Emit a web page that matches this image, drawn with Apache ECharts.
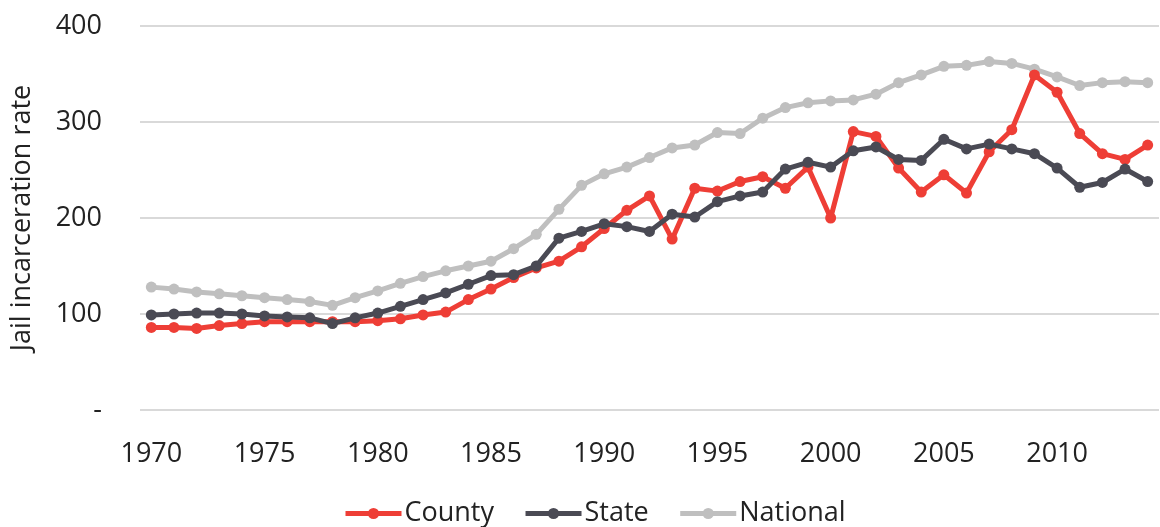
<!DOCTYPE html>
<html>
<head>
<meta charset="utf-8">
<script src="https://cdn.jsdelivr.net/npm/echarts@6/dist/echarts.min.js"></script>
<style>
  html, body { margin: 0; padding: 0; background: #fff; }
  #chart { width: 1160px; height: 527px; }
</style>
</head>
<body>
<div id="chart"></div>
<script>
var years = [];
for (var y = 1970; y <= 2014; y++) years.push(String(y));

var county = [86, 86, 85, 88, 90, 92, 92, 92, 92, 92, 93, 95, 99, 102, 115, 126, 138, 148, 155, 170, 189,
  208, 223, 178, 231, 228, 238, 243, 231, 253, 200, 290, 285, 252, 227, 245, 226, 269, 292, 349,
  331, 288, 267, 261, 276];
var state = [99, 100, 101, 101, 100, 98, 97, 96, 90, 96, 101, 108, 115, 122, 131, 140, 141, 150, 179, 186, 194,
  191, 186, 204, 201, 217, 223, 227, 251, 258, 253, 270, 274, 261, 260, 282, 272, 277, 272, 267,
  252, 232, 237, 251, 238];
var national = [128, 126, 123, 121, 119, 117, 115, 113, 109, 117, 124, 132, 139, 145, 150, 155, 168, 183, 209, 234, 246,
  253, 263, 273, 276, 289, 288, 304, 315, 320, 322, 323, 329, 341, 349, 358, 359, 363, 361, 355,
  347, 338, 341, 342, 341];

var font = "'Open Sans', 'Noto Sans', sans-serif";

function mkSeries(name, data, color, z) {
  return {
    name: name,
    type: 'line',
    data: data,
    symbol: 'circle',
    symbolSize: 11,
    z: z,
    lineStyle: { width: 5, color: color },
    itemStyle: { color: color },
    animation: false
  };
}

var chart = echarts.init(document.getElementById('chart'));
chart.setOption({
  backgroundColor: '#fff',
  textStyle: { fontFamily: font },
  grid: { left: 140, right: 1, top: 26, bottom: 117, containLabel: false, outerBoundsMode: 'none' },
  legend: {
    top: 495,
    left: 338,
    itemWidth: 56,
    itemHeight: 14,
    itemGap: 29,
    lineStyle: { width: 5 },
    textStyle: { fontSize: 27, color: '#222', fontFamily: font, padding: [0, 0, 0, -2] },
    data: ['County', 'State', 'National']
  },
  xAxis: {
    type: 'category',
    data: years,
    axisLine: { show: false },
    axisTick: { show: false },
    axisLabel: {
      interval: 4,
      fontSize: 27,
      color: '#222',
      margin: 31
    }
  },
  yAxis: {
    type: 'value',
    min: 0,
    max: 400,
    interval: 100,
    name: 'Jail incarceration rate',
    nameLocation: 'middle',
    nameGap: 104,
    nameTextStyle: { fontSize: 27, color: '#222' },
    axisLine: { show: false },
    axisTick: { show: false },
    axisLabel: {
      fontSize: 27,
      color: '#222',
      margin: 38,
      formatter: function (v) { return v === 0 ? '-' : v; }
    },
    splitLine: { lineStyle: { color: '#d9d9d9', width: 2 } }
  },
  series: [
    mkSeries('County', county, '#ee3e36', 3),
    mkSeries('State', state, '#4a4a54', 4),
    mkSeries('National', national, '#bfbfbf', 2)
  ]
});
</script>
</body>
</html>
